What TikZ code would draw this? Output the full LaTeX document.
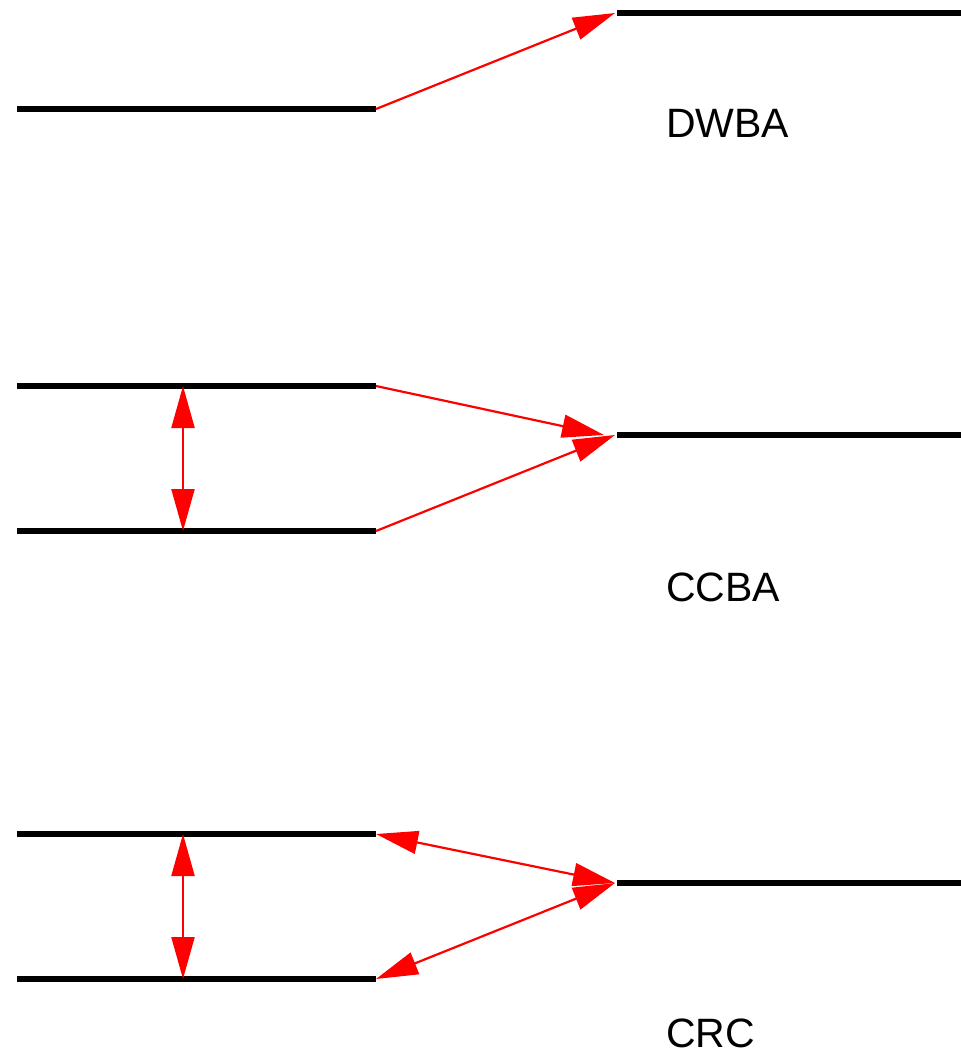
\documentclass[tikz,border=0pt]{standalone}
\usepackage{fontspec}
\setmainfont{Liberation Sans}
\usetikzlibrary{arrows.meta}
\begin{document}
\begin{tikzpicture}[x=1pt,y=-1pt,
  level/.style={line width=6pt,black},
  link/.style={draw=red,line width=2.2pt,-{Triangle[length=42pt,width=23pt]}},
  dlink/.style={draw=red,line width=2.2pt,{Triangle[length=42pt,width=23pt]}-{Triangle[length=42pt,width=23pt]}},
  lbl/.style={anchor=base west,inner sep=0pt,font=\fontsize{41}{49}\selectfont}]
\useasboundingbox (0,0) rectangle (961,1055);
% DWBA
\coordinate (a1) at (17,109); \coordinate (a2) at (376,109);
\coordinate (b1) at (617,13); \coordinate (b2) at (961,13);
\coordinate (bt) at (615,13);
\draw[level] (a1) -- (a2);
\draw[level] (b1) -- (b2);
\draw[link] (a2) -- (bt);
\node[lbl] (dwba) at (666,137) {DWBA};
% CCBA
\coordinate (c1) at (17,386); \coordinate (c2) at (376,386);
\coordinate (d1) at (17,531); \coordinate (d2) at (376,531);
\coordinate (e1) at (617,435); \coordinate (e2) at (961,435);
\coordinate (et1) at (604,435); \coordinate (et2) at (615,435);
\coordinate (cv) at (183,386); \coordinate (dv) at (183,531);
\draw[level] (c1) -- (c2);
\draw[level] (d1) -- (d2);
\draw[level] (e1) -- (e2);
\draw[link] (c2) -- (et1);
\draw[link] (d2) -- (et2);
\draw[dlink] (cv) -- (dv);
\node[lbl] (ccba) at (666,601) {CCBA};
% CRC
\coordinate (f1) at (17,834); \coordinate (f2) at (376,834);
\coordinate (g1) at (17,979); \coordinate (g2) at (376,979);
\coordinate (h1) at (617,883); \coordinate (h2) at (961,883);
\coordinate (ht) at (615,883);
\coordinate (fv) at (183,834); \coordinate (gv) at (183,979);
\draw[level] (f1) -- (f2);
\draw[level] (g1) -- (g2);
\draw[level] (h1) -- (h2);
\draw[dlink] (f2) -- (ht);
\draw[dlink] (g2) -- (ht);
\draw[dlink] (fv) -- (gv);
\node[lbl] (crc) at (666,1047) {CRC};
\end{tikzpicture}
\end{document}
